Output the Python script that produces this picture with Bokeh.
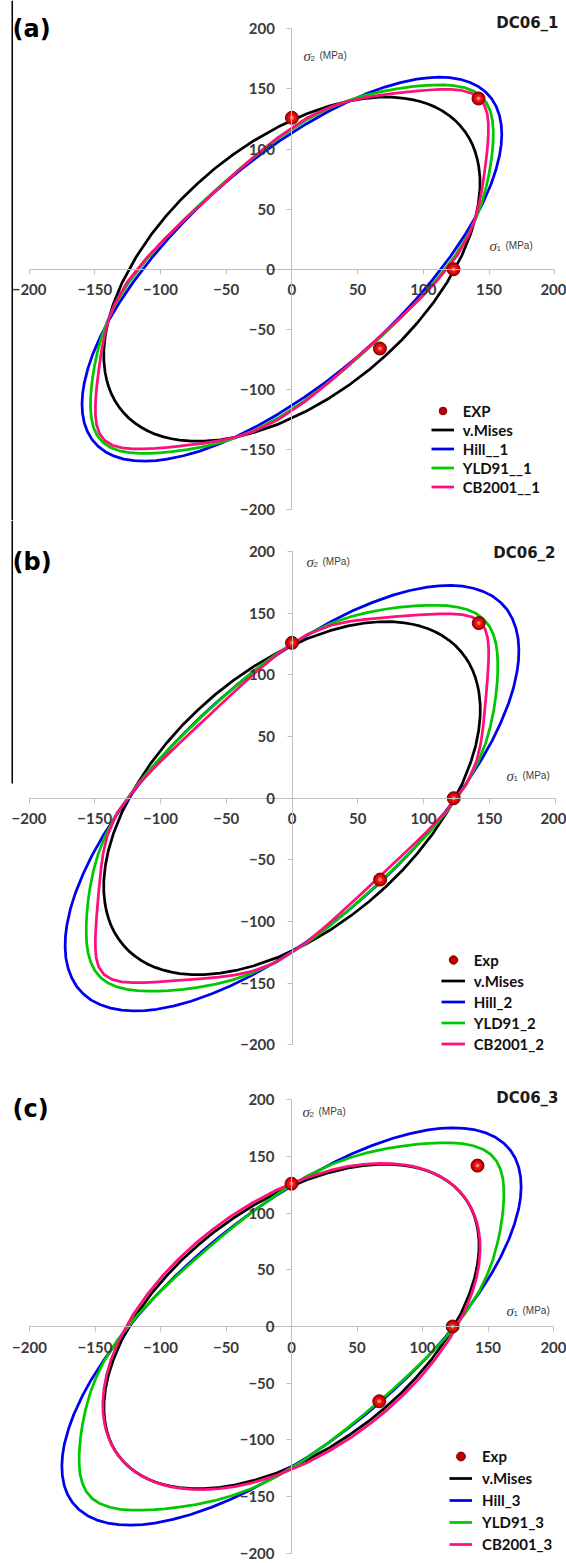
import numpy as np
from bokeh.plotting import figure
from bokeh.models import (Range1d, LinearAxis, FixedTicker, Label, Legend, LegendItem,
                          BoxAnnotation, Grid)
from bokeh.layouts import column
from bokeh.embed import file_html
from bokeh.resources import INLINE

# ---------------- data ----------------
TICKS = [-200, -150, -100, -50, 0, 50, 100, 150, 200]

# experimental points (sigma1, sigma2) in MPa
EXP_S1 = [0, 123, 142, 67]
EXP_S2 = [126, 0, 142, -66]

# polar angles (deg) at which the yield loci were read
THETA = [45, 47, 49, 51, 53, 55, 57, 59, 62, 65, 69, 73, 78, 85, 95, 105, 115, 125,
         135, 145, 155, 165, 175, 185, 192, 197, 201, 205, 208, 211, 213, 215, 217, 219, 221, 223,
         225, 227, 229, 231, 233, 235, 237, 239, 242, 245, 249, 253, 258, 265, 275, 285, 295, 305,
         315, 325, 335, 345, 355, 5, 12, 17, 21, 25, 28, 31, 33, 35, 37, 39, 41, 43]

# radius (MPa) of each yield locus along THETA
R_VMISES = [175.4, 175.1, 174.5, 173.5, 172.1, 170.3, 168.2, 165.9, 162.1, 157.9, 152.0, 146.1, 138.9, 129.8, 118.9, 110.9, 105.4, 102.3,
            101.2, 102.3, 105.4, 110.9, 118.9, 129.8, 138.9, 146.1, 152.0, 157.9, 162.1, 165.9, 168.2, 170.3, 172.1, 173.5, 174.5, 175.1,
            175.4, 175.1, 174.5, 173.5, 172.1, 170.3, 168.2, 165.9, 162.1, 157.9, 152.0, 146.1, 138.9, 129.8, 118.9, 110.9, 105.4, 102.3,
            101.2, 102.3, 105.4, 110.9, 118.9, 129.8, 138.9, 146.1, 152.0, 157.9, 162.1, 165.9, 168.2, 170.3, 172.1, 173.5, 174.5, 175.1]

R_HILL_1 = [208.5, 207.9, 206.1, 203.3, 199.5, 195.0, 189.9, 184.4, 175.8, 167.2, 156.0, 145.7, 134.3, 121.1, 107.1, 97.6, 91.5, 88.1,
            87.0, 88.1, 91.5, 97.6, 107.1, 121.1, 134.3, 145.7, 156.0, 167.2, 175.8, 184.4, 189.9, 195.0, 199.5, 203.3, 206.1, 207.9,
            208.5, 207.9, 206.1, 203.3, 199.5, 195.0, 189.9, 184.4, 175.8, 167.2, 156.0, 145.7, 134.3, 121.1, 107.1, 97.6, 91.5, 88.1,
            87.0, 88.1, 91.5, 97.6, 107.1, 121.1, 134.3, 145.7, 156.0, 167.2, 175.8, 184.4, 189.9, 195.0, 199.5, 203.3, 206.1, 207.9]
R_YLD91_1 = [203.6, 202.7, 200.2, 196.4, 191.9, 187.0, 182.0, 177.1, 170.0, 163.3, 154.9, 146.7, 137.0, 124.5, 109.9, 99.5, 92.7, 88.9,
             87.7, 88.9, 92.7, 99.5, 109.9, 124.5, 137.0, 146.7, 154.9, 163.3, 170.0, 177.1, 182.0, 187.0, 191.9, 196.4, 200.2, 202.7,
             203.6, 202.7, 200.2, 196.4, 191.9, 187.0, 182.0, 177.1, 170.0, 163.3, 154.9, 146.7, 137.0, 124.5, 109.9, 99.5, 92.7, 88.9,
             87.7, 88.9, 92.7, 99.5, 109.9, 124.5, 137.0, 146.7, 154.9, 163.3, 170.0, 177.1, 182.0, 187.0, 191.9, 196.4, 200.2, 202.7]
R_CB2001_1 = [201.5, 200.3, 197.0, 192.4, 187.2, 182.0, 176.9, 172.1, 165.6, 159.8, 152.7, 146.1, 137.7, 126.0, 110.8, 99.7, 92.4, 88.3,
              87.1, 88.3, 92.4, 99.7, 110.8, 126.0, 137.7, 146.1, 152.7, 159.8, 165.6, 172.1, 176.9, 182.0, 187.2, 192.4, 197.0, 200.3,
              201.5, 200.3, 197.0, 192.4, 187.2, 182.0, 176.9, 172.1, 165.6, 159.8, 152.7, 146.1, 137.7, 126.0, 110.8, 99.7, 92.4, 88.3,
              87.1, 88.3, 92.4, 99.7, 110.8, 126.0, 137.7, 146.1, 152.7, 159.8, 165.6, 172.1, 176.9, 182.0, 187.2, 192.4, 197.0, 200.3]

R_HILL_2 = [224.5, 223.9, 222.0, 219.1, 215.3, 210.6, 205.4, 199.7, 190.8, 181.7, 169.9, 159.1, 146.9, 132.7, 117.6, 107.3, 100.7, 96.9,
            95.7, 96.9, 100.7, 107.3, 117.6, 132.7, 146.9, 159.1, 169.9, 181.7, 190.8, 199.7, 205.4, 210.6, 215.3, 219.1, 222.0, 223.9,
            224.5, 223.9, 222.0, 219.1, 215.3, 210.6, 205.4, 199.7, 190.8, 181.7, 169.9, 159.1, 146.9, 132.7, 117.6, 107.3, 100.7, 96.9,
            95.7, 96.9, 100.7, 107.3, 117.6, 132.7, 146.9, 159.1, 169.9, 181.7, 190.8, 199.7, 205.4, 210.6, 215.3, 219.1, 222.0, 223.9]
R_YLD91_2 = [205.8, 205.0, 202.8, 199.5, 195.5, 191.0, 186.5, 182.0, 175.5, 169.3, 161.5, 154.1, 145.0, 133.2, 118.6, 107.9, 100.7, 96.6,
             95.3, 96.6, 100.7, 107.9, 118.6, 133.2, 145.0, 154.1, 161.5, 169.3, 175.5, 182.0, 186.5, 191.0, 195.5, 199.5, 202.8, 205.0,
             205.8, 205.0, 202.8, 199.5, 195.5, 191.0, 186.5, 182.0, 175.5, 169.3, 161.5, 154.1, 145.0, 133.2, 118.6, 107.9, 100.7, 96.6,
             95.3, 96.6, 100.7, 107.9, 118.6, 133.2, 145.0, 154.1, 161.5, 169.3, 175.5, 182.0, 186.5, 191.0, 195.5, 199.5, 202.8, 205.0]
R_CB2001_2 = [202.2, 200.9, 197.3, 192.4, 187.2, 182.0, 177.2, 172.7, 166.7, 161.4, 155.4, 150.0, 143.4, 133.3, 118.0, 105.9, 97.9, 93.5,
              92.1, 93.5, 97.9, 105.9, 118.0, 133.3, 143.4, 150.0, 155.4, 161.4, 166.7, 172.7, 177.2, 182.0, 187.2, 192.4, 197.3, 200.9,
              202.2, 200.9, 197.3, 192.4, 187.2, 182.0, 177.2, 172.7, 166.7, 161.4, 155.4, 150.0, 143.4, 133.3, 118.0, 105.9, 97.9, 93.5,
              92.1, 93.5, 97.9, 105.9, 118.0, 133.3, 143.4, 150.0, 155.4, 161.4, 166.7, 172.7, 177.2, 182.0, 187.2, 192.4, 197.3, 200.9]

R_HILL_3 = [229.0, 228.3, 226.4, 223.2, 219.0, 214.0, 208.4, 202.4, 192.8, 183.3, 171.0, 159.7, 147.0, 132.5, 117.2, 106.8, 100.0, 96.3,
            95.1, 96.3, 100.0, 106.8, 117.2, 132.5, 147.0, 159.7, 171.0, 183.3, 192.8, 202.4, 208.4, 214.0, 219.0, 223.2, 226.4, 228.3,
            229.0, 228.3, 226.4, 223.2, 219.0, 214.0, 208.4, 202.4, 192.8, 183.3, 171.0, 159.7, 147.0, 132.5, 117.2, 106.8, 100.0, 96.3,
            95.1, 96.3, 100.0, 106.8, 117.2, 132.5, 147.0, 159.7, 171.0, 183.3, 192.8, 202.4, 208.4, 214.0, 219.0, 223.2, 226.4, 228.3]
R_YLD91_3 = [215.0, 214.0, 211.4, 207.6, 202.9, 197.9, 192.7, 187.7, 180.4, 173.4, 164.7, 156.2, 146.2, 133.1, 117.8, 106.7, 99.4, 95.4,
             94.0, 95.4, 99.4, 106.7, 117.8, 133.1, 146.2, 156.2, 164.7, 173.4, 180.4, 187.7, 192.7, 197.9, 202.9, 207.6, 211.4, 214.0,
             215.0, 214.0, 211.4, 207.6, 202.9, 197.9, 192.7, 187.7, 180.4, 173.4, 164.7, 156.2, 146.2, 133.1, 117.8, 106.7, 99.4, 95.4,
             94.0, 95.4, 99.4, 106.7, 117.8, 133.1, 146.2, 156.2, 164.7, 173.4, 180.4, 187.7, 192.7, 197.9, 202.9, 207.6, 211.4, 214.0]
R_CB2001_3 = [175.4, 175.2, 174.6, 173.6, 172.3, 170.6, 168.7, 166.5, 162.9, 158.9, 153.3, 147.7, 140.8, 131.9, 121.3, 113.3, 107.9, 104.7,
              103.7, 104.7, 107.9, 113.3, 121.3, 131.9, 140.8, 147.7, 153.3, 158.9, 162.9, 166.5, 168.7, 170.6, 172.3, 173.6, 174.6, 175.2,
              175.4, 175.2, 174.6, 173.6, 172.3, 170.6, 168.7, 166.5, 162.9, 158.9, 153.3, 147.7, 140.8, 131.9, 121.3, 113.3, 107.9, 104.7,
              103.7, 104.7, 107.9, 113.3, 121.3, 131.9, 140.8, 147.7, 153.3, 158.9, 162.9, 166.5, 168.7, 170.6, 172.3, 173.6, 174.6, 175.2]

# ---------------- drawing ----------------
TH = np.radians(np.array(THETA + [THETA[0]], float))


def xy(radii):
    r = np.array(list(radii) + [radii[0]], float)
    return r * np.cos(TH), r * np.sin(TH)


BLACK, BLUE, GREEN, PINK = "#000000", "#0000f0", "#00c800", "#ff0f7b"
W = 566


def make_panel(H, x0, sx, y0, sy, curves, leg_labels, letter, title, tpos, s2pos, s1pos, leg):
    p = figure(width=W, height=H,
               x_range=Range1d(-x0 / sx, (W - x0) / sx),
               y_range=Range1d((y0 - H) / sy, y0 / sy),
               x_axis_location=None, y_axis_location=None,
               toolbar_location=None, output_backend="svg", min_border=0,
               outline_line_color=None, background_fill_color="white",
               border_fill_color="white")
    p.center = [r for r in p.center if not isinstance(r, Grid)]
    for dim, side in (("x", "below"), ("y", "left")):
        ax = LinearAxis(fixed_location=0, ticker=FixedTicker(ticks=TICKS), bounds=(-200, 200))
        ax.axis_line_color = "#bfbfbf"
        ax.major_tick_line_color = "#bfbfbf"
        ax.major_tick_out = 5
        ax.major_tick_in = 0
        ax.minor_tick_line_color = None
        ax.major_label_text_font = "Lato"
        ax.major_label_text_font_style = "bold"
        ax.major_label_text_font_size = "15px"
        ax.major_label_text_color = "#3a3a3a"
        ax.major_label_standoff = 10 if dim == "x" else 12
        p.add_layout(ax, side)

    rends = []
    for radii, col in zip(curves, [BLACK, BLUE, GREEN, PINK]):
        x, y = xy(radii)
        rends.append(p.line(x, y, line_color=col, line_width=2.75, line_join="round"))
    e1 = p.scatter(EXP_S1, EXP_S2, size=13, fill_color="#c00000", line_color="#6e0000", line_width=1)
    p.scatter(EXP_S1, EXP_S2, size=9, fill_color="#e81010", line_color=None)
    p.scatter(EXP_S1, EXP_S2, size=4, fill_color="#ff7a6a", line_color=None)

    items = [LegendItem(label=leg_labels[0], renderers=[e1])]
    for lab, r in zip(leg_labels[1:], rends):
        items.append(LegendItem(label=lab, renderers=[r]))
    lx, ly, row, gw, st = leg
    lg = Legend(items=items, location=(lx, ly), orientation="vertical", padding=0, margin=0,
                spacing=0, glyph_width=gw, glyph_height=row, label_height=row,
                label_standoff=st, label_text_font="Lato", label_text_font_style="bold",
                label_text_font_size="15px", label_text_color="#111111",
                background_fill_alpha=0, border_line_alpha=0)
    p.add_layout(lg)

    p.add_layout(Label(x=12, y=H - letter[1], x_units="screen", y_units="screen", text=letter[0],
                       text_font="DejaVu Sans", text_font_style="bold", text_font_size="24px",
                       text_baseline="alphabetic", text_color="#000000"))
    p.add_layout(Label(x=tpos[0], y=H - tpos[1], x_units="screen", y_units="screen", text=title,
                       text_font="DejaVu Sans", text_font_style="bold", text_font_size="15px",
                       text_baseline="alphabetic", text_align="right", text_color="#1a1a1a"))
    for (sx_, sb), sub in ((s2pos, "2"), (s1pos, "1")):
        p.add_layout(Label(x=sx_, y=H - sb, x_units="screen", y_units="screen", text="σ",
                           text_font="Liberation Serif", text_font_style="italic",
                           text_font_size="15px", text_baseline="alphabetic", text_color="#404040"))
        p.add_layout(Label(x=sx_ + 7, y=H - sb - 3, x_units="screen", y_units="screen", text=sub,
                           text_font="Liberation Sans", text_font_size="8px",
                           text_baseline="alphabetic", text_color="#404040"))
        p.add_layout(Label(x=sx_ + 16, y=H - sb, x_units="screen", y_units="screen", text="(MPa)",
                           text_font="Liberation Sans", text_font_size="10px",
                           text_baseline="alphabetic", text_color="#404040"))
    return p


pa = make_panel(520, 291.4, 1.314, 268.7, 1.202, [R_VMISES, R_HILL_1, R_YLD91_1, R_CB2001_1],
                ["EXP", "v.Mises", "Hill__1", "YLD91__1", "CB2001__1"], ("(a)", 28.5),
                "DC06_1", (558, 22), (303, 55), (489, 245), (430.7, 24, 19, 23, 9))
pa.add_layout(BoxAnnotation(left=11, right=12.5, bottom=0, top=520, left_units="screen",
                            right_units="screen", bottom_units="screen", top_units="screen",
                            fill_color="black", fill_alpha=1, line_color=None))
pb = make_panel(535, 291.5, 1.315, 277.7, 1.233, [R_VMISES, R_HILL_2, R_YLD91_2, R_CB2001_2],
                ["Exp", "v.Mises", "Hill_2", "YLD91_2", "CB2001_2"], ("(b)", 41),
                "DC06_2", (555, 32), (306, 41), (506, 255), (440.7, 1, 21, 24, 9))
pb.add_layout(BoxAnnotation(left=11, right=12.5, bottom=272, top=535, left_units="screen",
                            right_units="screen", bottom_units="screen", top_units="screen",
                            fill_color="black", fill_alpha=1, line_color=None))
pc = make_panel(508, 291.0, 1.31, 271.0, 1.133, [R_VMISES, R_HILL_3, R_YLD91_3, R_CB2001_3],
                ["Exp", "v.Mises", "Hill_3", "YLD91_3", "CB2001_3"], ("(c)", 53.5),
                "DC06_3", (558, 42), (302, 56), (506, 255), (449, 8, 22, 23, 10))

layout = column(pa, pb, pc, spacing=0)
open("out.html", "w").write(file_html(layout, INLINE))
